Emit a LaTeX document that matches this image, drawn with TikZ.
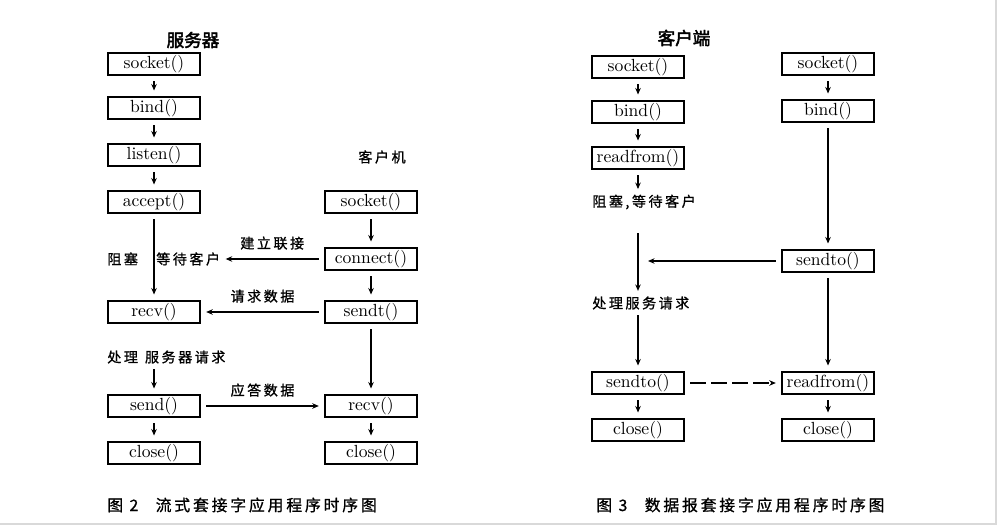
\documentclass[tikz,border=0pt]{standalone}
\usepackage{fontspec}
\usetikzlibrary{arrows.meta}
\newfontfamily\cjk[LetterSpace=18,FakeBold=1]{Noto Sans CJK SC}
\newfontfamily\cjkbold[FakeBold=2.5]{Noto Sans CJK SC}

\begin{document}
\begin{tikzpicture}[x=0.02cm,y=-0.02cm, every node/.style={inner sep=0pt},
 box/.style={draw,line width=1.1pt,minimum width=1.84cm,minimum height=0.45cm,font=\fontsize{10}{12}\selectfont},
 arr/.style={-{Stealth[length=1.3mm,width=1.1mm]},line width=0.6pt,shorten <=3pt,shorten >=3pt},
 thk/.style={arr,line width=1.6pt},
 lbl/.style={font=\cjk\fontsize{8}{10}\selectfont},
 ttl/.style={font=\cjkbold\fontsize{10}{12}\selectfont},
 figcap/.style={font=\cjk\fontsize{9}{11}\selectfont}]
\useasboundingbox (0,0) rectangle (998,527);
\draw[black!15,line width=1pt] (996,0) -- (996,524) -- (0,524);
% stream sockets
\node[ttl] (srvtitle) at (193,40) {服务器};
\node[box] (ssocket) at (154,64) {socket()};
\node[box] (sbind) at (154,108) {bind()};
\node[box] (slisten) at (154,155) {listen()};
\node[box] (saccept) at (154,202) {accept()};
\node[lbl,anchor=west] (sblock) at (107,259) {阻塞\hspace{1.3em}等待客户};
\node[box] (srecv) at (154,312) {recv()};
\node[lbl,anchor=west] (sdo) at (107,357) {处理\hspace{0.5em}服务器请求};
\node[box] (ssend) at (154,406) {send()};
\node[box] (sclose) at (154,453) {close()};
\node[lbl] (cltitle) at (382,157) {客户机};
\node[box] (csocket) at (371,202) {socket()};
\node[box] (cconnect) at (371,259) {connect()};
\node[box] (csendt) at (371,312) {sendt()};
\node[box] (crecv) at (371,406) {recv()};
\node[box] (cclose) at (371,453) {close()};
\draw[arr] (ssocket) -- (sbind); \draw[arr] (sbind) -- (slisten); \draw[arr] (slisten) -- (saccept);
\draw[thk] (saccept) -- (srecv);
\draw[arr] (sdo.south -| ssend) -- (ssend); \draw[arr] (ssend) -- (sclose);
\draw[arr] (csocket) -- (cconnect); \draw[arr] (cconnect) -- (csendt);
\draw[thk] (csendt) -- (crecv); \draw[arr] (crecv) -- (cclose);
\draw[arr] (cconnect) -- node[lbl,above=5pt] {建立联接} (sblock);
\draw[arr] (csendt) -- node[lbl,above=5pt] {请求数据} (srecv);
\draw[arr] (ssend) -- node[lbl,above=5pt] {应答数据} (crecv);
\node[figcap,anchor=west] (cap2) at (107,505) {图 2\hspace{1.1em}流式套接字应用程序时序图};
% datagram sockets
\node[ttl] (cttitle) at (684,38) {客户端};
\node[box] (lsocket) at (638,67) {socket()};
\node[box] (lbind) at (638,112) {bind()};
\node[box] (lread) at (638,158) {readfrom()};
\node[lbl,anchor=west] (lblock) at (592,202) {阻塞,等待客户};
\coordinate (lwait) at (638,228);
\node[lbl,anchor=west] (ldo) at (592,303) {处理服务请求};
\node[box] (lsend) at (638,383) {sendto()};
\node[box] (lclose) at (638,430) {close()};
\node[box] (rsocket) at (828,64) {socket()};
\node[box] (rbind) at (828,111) {bind()};
\node[box] (rsend) at (828,261) {sendto()};
\node[box] (rread) at (828,383) {readfrom()};
\node[box] (rclose) at (828,430) {close()};
\coordinate (lhit) at (648,261);
\draw[arr] (lsocket) -- (lbind); \draw[arr] (lbind) -- (lread);
\draw[arr] (lread) -- (lread |- lblock.north);
\draw[thk] (lwait) -- (lwait |- ldo.north);
\draw[thk] (ldo.south -| lsend) -- (lsend); \draw[arr] (lsend) -- (lclose);
\draw[arr] (rsocket) -- (rbind); \draw[thk] (rbind) -- (rsend);
\draw[arr,shorten >=0pt] (rsend) -- (lhit);
\draw[thk] (rsend) -- (rread); \draw[arr] (rread) -- (rclose);
\draw[arr,dash pattern=on 9pt off 3pt] (lsend) -- (rread);
\node[figcap,anchor=west] (cap3) at (596,505) {图 3\hspace{1.1em}数据报套接字应用程序时序图};
\end{tikzpicture}
\end{document}
